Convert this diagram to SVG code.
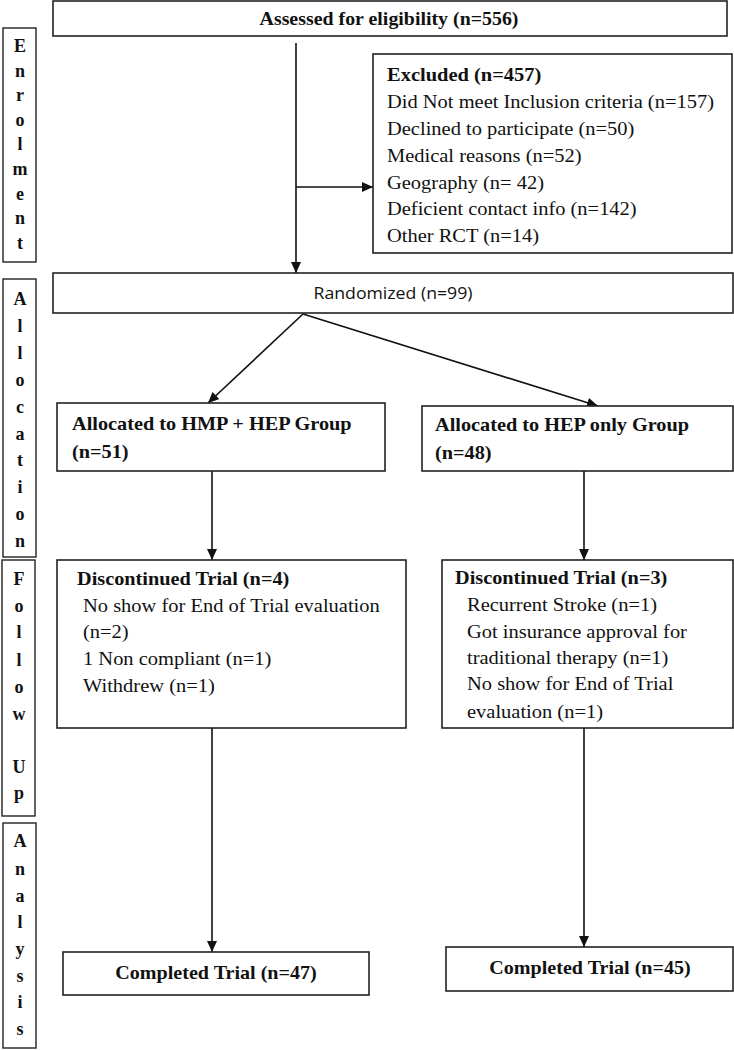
<svg xmlns="http://www.w3.org/2000/svg" width="734" height="1050" viewBox="0 0 734 1050">
<style>
.box{fill:#fff;stroke:#222;stroke-width:1.6}
.side{fill:#fff;stroke:#222;stroke-width:1.4}
.t{font-family:"Liberation Serif","Times New Roman",serif;font-size:19.5px;fill:#111}
.b{font-weight:bold}
.sl{font-family:"Liberation Serif","Times New Roman",serif;font-size:18px;font-weight:bold;fill:#111;text-anchor:middle}
.s{font-family:"Open Sans","Liberation Sans",sans-serif;font-size:17px;fill:#111}
.m{text-anchor:middle}
.c{stroke:#111;stroke-width:1.6;fill:none;marker-end:url(#ah)}
</style>
<defs>
<marker id="ah" markerUnits="userSpaceOnUse" markerWidth="11" markerHeight="10" refX="11" refY="5" orient="auto">
<path d="M0,0 L11,5 L0,10 z" fill="#111"/>
</marker>
</defs>
<rect width="734" height="1050" fill="#fff"/>

<g id="side-enrolment">
<rect class="side" x="3" y="28" width="33" height="234"/>
<text class="sl" x="20" y="52">E</text>
<text class="sl" x="20" y="76.6">n</text>
<text class="sl" x="20" y="101.2">r</text>
<text class="sl" x="20" y="125.8">o</text>
<text class="sl" x="20" y="150.4">l</text>
<text class="sl" x="20" y="175">m</text>
<text class="sl" x="20" y="199.6">e</text>
<text class="sl" x="20" y="224.2">n</text>
<text class="sl" x="20" y="248.8">t</text>
</g>
<g id="side-allocation">
<rect class="side" x="3" y="279" width="33" height="278"/>
<text class="sl" x="20" y="305">A</text>
<text class="sl" x="20" y="332">l</text>
<text class="sl" x="20" y="359">l</text>
<text class="sl" x="20" y="386">o</text>
<text class="sl" x="20" y="413">c</text>
<text class="sl" x="20" y="440">a</text>
<text class="sl" x="20" y="466">t</text>
<text class="sl" x="20" y="493">i</text>
<text class="sl" x="20" y="520">o</text>
<text class="sl" x="20" y="547">n</text>
</g>
<g id="side-followup">
<rect class="side" x="2" y="560" width="33" height="256"/>
<text class="sl" x="19" y="585">F</text>
<text class="sl" x="19" y="612">o</text>
<text class="sl" x="19" y="638">l</text>
<text class="sl" x="19" y="666">l</text>
<text class="sl" x="19" y="693">o</text>
<text class="sl" x="19" y="720">w</text>
<text class="sl" x="19" y="773">U</text>
<text class="sl" x="19" y="799">p</text>
</g>
<g id="side-analysis">
<rect class="side" x="3" y="823" width="33" height="225"/>
<text class="sl" x="20" y="847">A</text>
<text class="sl" x="20" y="875">n</text>
<text class="sl" x="20" y="902">a</text>
<text class="sl" x="20" y="928">l</text>
<text class="sl" x="20" y="955">y</text>
<text class="sl" x="20" y="982">s</text>
<text class="sl" x="20" y="1008">i</text>
<text class="sl" x="20" y="1035">s</text>
</g>

<g id="connectors">
<line class="c" x1="296" y1="43" x2="296" y2="273"/>
<line class="c" x1="296" y1="187" x2="373" y2="187"/>
<line class="c" x1="303" y1="314" x2="208" y2="403"/>
<line class="c" x1="303" y1="314" x2="598" y2="406"/>
<line class="c" x1="212" y1="471" x2="212" y2="560"/>
<line class="c" x1="584" y1="471" x2="584" y2="560"/>
<line class="c" x1="212" y1="728" x2="212" y2="952"/>
<line class="c" x1="584" y1="728" x2="584" y2="947"/>
</g>

<g id="assessed">
<rect class="box" x="53" y="1" width="674" height="35"/>
<text class="t b m" transform="translate(389,25) scale(1.02,1)">Assessed for eligibility (n=556)</text>
</g>

<g id="excluded">
<rect class="box" x="373" y="54" width="359" height="199"/>
<text class="t b" transform="translate(387,81) scale(1.05,1)">Excluded (n=457)</text>
<text class="t" transform="translate(387,108) scale(1.05,1)">Did Not meet Inclusion criteria (n=157)</text>
<text class="t" transform="translate(387,134.5) scale(1.05,1)">Declined to participate (n=50)</text>
<text class="t" transform="translate(387,161.5) scale(1.05,1)">Medical reasons (n=52)</text>
<text class="t" transform="translate(387,188.5) scale(1.05,1)">Geography (n= 42)</text>
<text class="t" transform="translate(387,215) scale(1.05,1)">Deficient contact info (n=142)</text>
<text class="t" transform="translate(387,242) scale(1.05,1)">Other RCT (n=14)</text>
</g>

<g id="randomized">
<rect class="box" x="53" y="273" width="680" height="40"/>
<text class="s m" transform="translate(393,299) scale(1.04,1)">Randomized (n=99)</text>
</g>

<g id="alloc-hmp">
<rect class="box" x="57" y="403" width="328" height="68"/>
<text class="t b" transform="translate(72,430) scale(1.04,1)">Allocated to HMP + HEP Group</text>
<text class="t b" transform="translate(72,458) scale(1.04,1)">(n=51)</text>
</g>

<g id="alloc-hep">
<rect class="box" x="422" y="406" width="311" height="65"/>
<text class="t b" transform="translate(435,431) scale(1.04,1)">Allocated to HEP only Group</text>
<text class="t b" transform="translate(435,459) scale(1.04,1)">(n=48)</text>
</g>

<g id="disc-hmp">
<rect class="box" x="57" y="560" width="349" height="168"/>
<text class="t b" transform="translate(77,585) scale(1.04,1)">Discontinued Trial (n=4)</text>
<text class="t" transform="translate(83,612) scale(1.05,1)">No show for End of Trial evaluation</text>
<text class="t" transform="translate(83,638) scale(1.05,1)">(n=2)</text>
<text class="t" transform="translate(83,665) scale(1.05,1)">1 Non compliant (n=1)</text>
<text class="t" transform="translate(83,692) scale(1.05,1)">Withdrew (n=1)</text>
</g>

<g id="disc-hep">
<rect class="box" x="442" y="560" width="291" height="168"/>
<text class="t b" transform="translate(455,584) scale(1.04,1)">Discontinued Trial (n=3)</text>
<text class="t" transform="translate(467,611) scale(1.05,1)">Recurrent Stroke (n=1)</text>
<text class="t" transform="translate(467,638) scale(1.05,1)">Got insurance approval for</text>
<text class="t" transform="translate(467,664) scale(1.05,1)">traditional therapy (n=1)</text>
<text class="t" transform="translate(467,690) scale(1.05,1)">No show for End of Trial</text>
<text class="t" transform="translate(467,718) scale(1.05,1)">evaluation (n=1)</text>
</g>

<g id="completed-hmp">
<rect class="box" x="63" y="952" width="306" height="43"/>
<text class="t b m" transform="translate(216,979) scale(1.03,1)">Completed Trial (n=47)</text>
</g>

<g id="completed-hep">
<rect class="box" x="446" y="947" width="287" height="44"/>
<text class="t b m" transform="translate(590,974) scale(1.03,1)">Completed Trial (n=45)</text>
</g>
</svg>
